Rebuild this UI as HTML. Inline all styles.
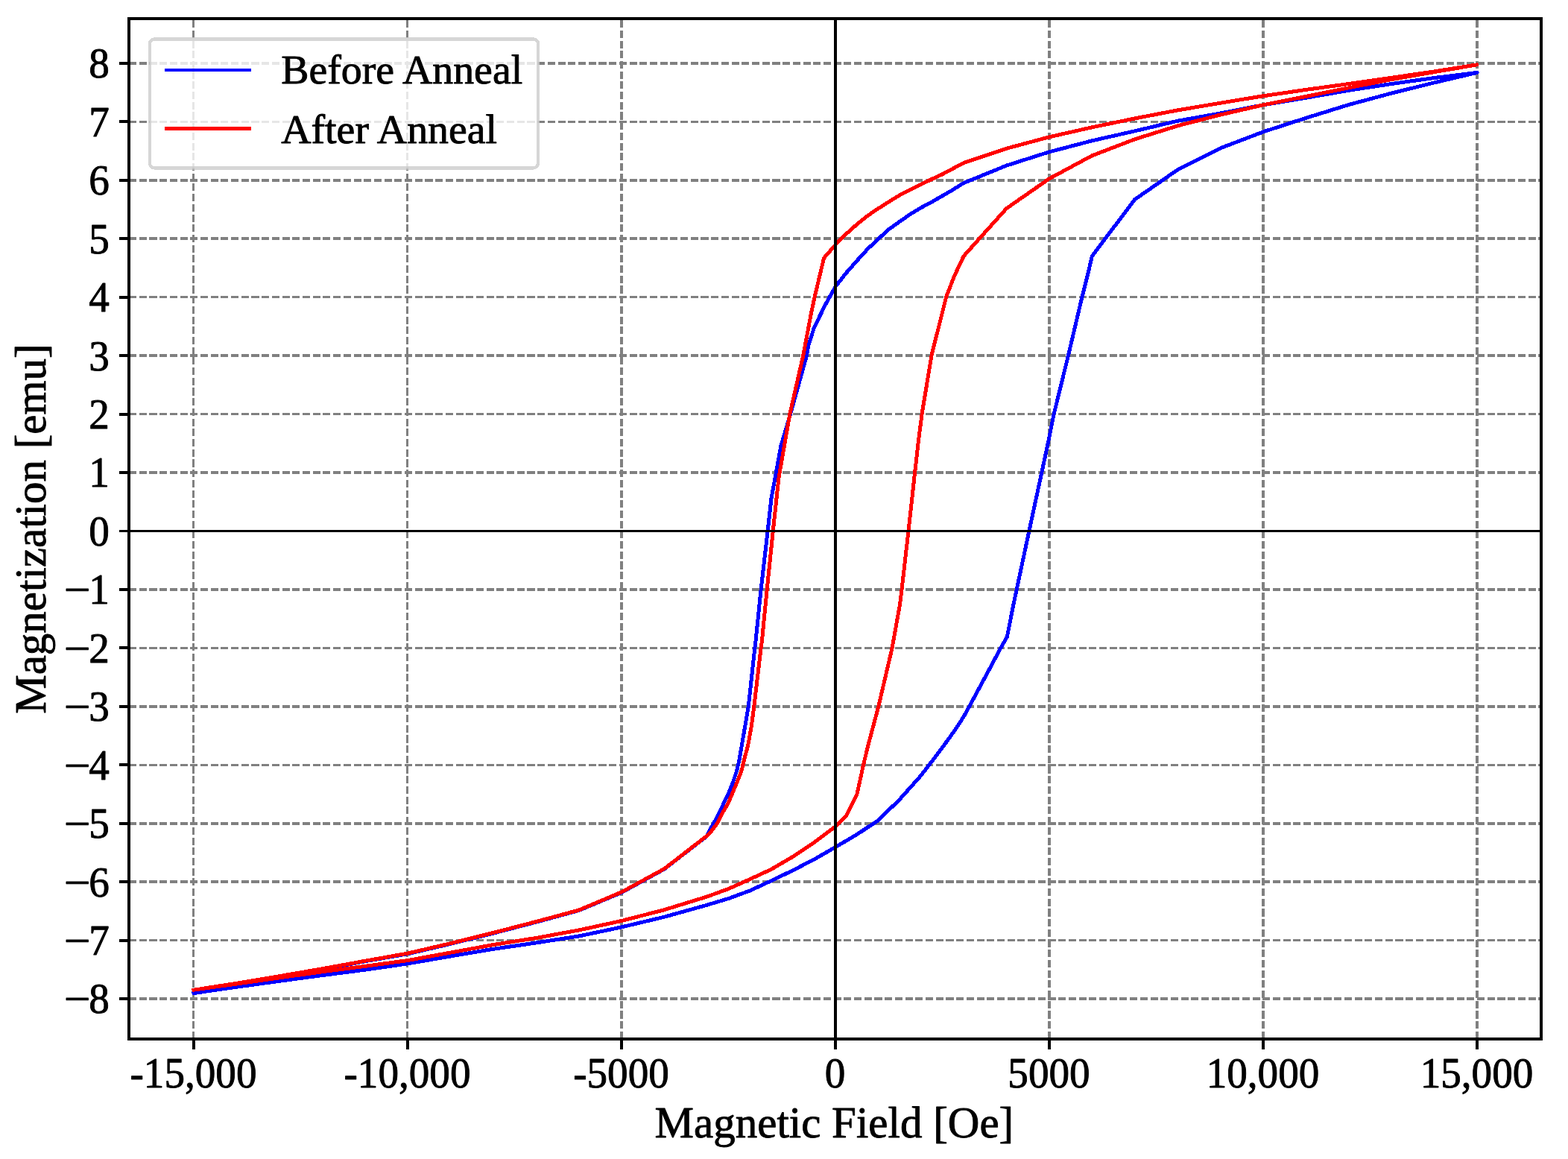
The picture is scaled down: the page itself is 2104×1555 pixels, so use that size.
<!DOCTYPE html>
<html lang="en"><head><meta charset="utf-8"><title>Magnetization vs Magnetic Field</title>
<style>html,body{margin:0;padding:0;background:#fff;}svg{display:block;}text{font-family:'Liberation Serif','Times New Roman',Times,serif;fill:#000;stroke:#000;stroke-width:0.9px;stroke-linejoin:round;paint-order:stroke fill;}</style>
</head><body>
<svg xmlns="http://www.w3.org/2000/svg" width="2104" height="1555" viewBox="0 0 2104 1555">
<rect x="0" y="0" width="2104" height="1555" fill="#ffffff"/>
<defs><clipPath id="ax"><rect x="173" y="25" width="1895" height="1369"/></clipPath></defs>
<g clip-path="url(#ax)"><g stroke="#808080" stroke-dasharray="10.1 3.605" fill="none" shape-rendering="crispEdges">
<line x1="259.5" y1="1394" x2="259.5" y2="25" stroke-width="3"/>
<line x1="546.5" y1="1394" x2="546.5" y2="25" stroke-width="3"/>
<line x1="834" y1="1394" x2="834" y2="25" stroke-width="4"/>
<line x1="1408" y1="1394" x2="1408" y2="25" stroke-width="4"/>
<line x1="1695" y1="1394" x2="1695" y2="25" stroke-width="4"/>
<line x1="1982" y1="1394" x2="1982" y2="25" stroke-width="4"/>
<line x1="173" y1="1340" x2="2068" y2="1340" stroke-width="4"/>
<line x1="173" y1="1261.5" x2="2068" y2="1261.5" stroke-width="3"/>
<line x1="173" y1="1183" x2="2068" y2="1183" stroke-width="4"/>
<line x1="173" y1="1105" x2="2068" y2="1105" stroke-width="4"/>
<line x1="173" y1="1026.5" x2="2068" y2="1026.5" stroke-width="3"/>
<line x1="173" y1="948" x2="2068" y2="948" stroke-width="4"/>
<line x1="173" y1="869.5" x2="2068" y2="869.5" stroke-width="3"/>
<line x1="173" y1="791" x2="2068" y2="791" stroke-width="4"/>
<line x1="173" y1="634" x2="2068" y2="634" stroke-width="4"/>
<line x1="173" y1="555.5" x2="2068" y2="555.5" stroke-width="3"/>
<line x1="173" y1="477" x2="2068" y2="477" stroke-width="4"/>
<line x1="173" y1="398.5" x2="2068" y2="398.5" stroke-width="3"/>
<line x1="173" y1="320" x2="2068" y2="320" stroke-width="4"/>
<line x1="173" y1="242" x2="2068" y2="242" stroke-width="4"/>
<line x1="173" y1="163.5" x2="2068" y2="163.5" stroke-width="3"/>
<line x1="173" y1="85" x2="2068" y2="85" stroke-width="4"/>
</g>
<g fill="none" stroke-width="5" stroke-linejoin="round" stroke-linecap="square" shape-rendering="crispEdges">
<polyline stroke="#0000ff" points="260.0,1332.5 317.4,1324.2 374.8,1316.3 432.2,1308.6 489.6,1301.2 547.0,1292.9 604.4,1283.0 661.8,1273.3 719.2,1265.0 776.6,1256.0 834.0,1243.9 891.4,1230.2 948.8,1214.2 977.5,1205.6 1006.2,1195.0 1034.9,1181.7 1063.6,1167.9 1092.3,1153.1 1121.0,1136.6 1149.7,1119.7 1178.4,1100.6 1207.1,1072.7 1235.8,1040.5 1246.2,1027.0 1264.5,1003.0 1281.0,980.0 1293.2,961.4 1300.7,947.8 1321.9,908.5 1342.8,869.3 1351.4,854.3 1359.9,811.0 1364.2,790.9 1380.9,712.4 1397.8,634.0 1407.0,591.0 1414.2,555.3 1433.5,476.8 1452.0,398.3 1459.2,370.0 1465.4,343.5 1522.8,267.6 1580.2,227.7 1637.6,198.8 1695.0,176.9 1752.4,158.3 1809.8,140.5 1867.2,125.1 1924.6,110.9 1982.0,97.4 1924.6,104.5 1867.2,112.5 1809.8,121.3 1752.4,131.2 1695.0,140.8 1637.6,152.0 1580.2,162.2 1522.8,175.8 1465.4,188.8 1408.0,203.8 1350.6,222.1 1293.2,245.5 1278.8,254.5 1264.5,262.8 1250.2,271.0 1235.8,278.7 1221.5,287.4 1207.1,297.3 1192.8,307.6 1178.4,320.7 1164.0,334.3 1149.7,350.0 1135.3,366.4 1121.0,384.6 1106.7,410.3 1092.3,440.0 1084.8,463.3 1082.4,477.3 1060.7,555.2 1047.8,598.5 1041.4,633.8 1035.0,668.6 1030.2,712.1 1021.1,790.9 1013.8,862.0 1012.8,869.4 1004.3,947.8 991.9,1020.0 988.6,1034.3 983.8,1048.6 977.5,1064.5 971.4,1077.1 963.1,1094.8 953.6,1111.4 948.8,1121.6 891.4,1166.0 834.0,1197.5 776.6,1221.6 719.2,1237.2 661.8,1252.2 604.4,1266.4 547.0,1279.8 489.6,1289.8 432.2,1300.8 374.8,1310.8 317.4,1320.8 260.0,1332.5"/>
<polyline stroke="#ff0000" points="260.0,1328.2 317.4,1320.0 374.8,1311.9 432.2,1303.8 489.6,1296.4 547.0,1288.6 604.4,1278.1 661.8,1267.6 719.2,1258.5 776.6,1248.0 834.0,1235.5 891.4,1220.7 948.8,1203.0 977.5,1192.5 1006.2,1179.7 1034.9,1166.3 1063.6,1149.6 1092.3,1130.4 1121.0,1109.0 1135.7,1094.0 1149.9,1065.7 1158.5,1026.4 1164.9,1000.0 1178.8,947.8 1197.1,869.3 1207.5,811.0 1210.0,790.9 1219.0,712.4 1227.6,634.0 1232.5,591.0 1237.1,555.3 1250.0,476.8 1269.7,398.3 1280.7,370.0 1293.2,343.5 1350.6,279.6 1408.0,239.7 1465.4,208.8 1522.8,186.8 1580.2,168.8 1637.6,154.0 1695.0,140.8 1752.4,129.4 1809.8,117.8 1867.2,106.6 1924.6,96.6 1982.0,86.8 1924.6,95.9 1867.2,104.3 1809.8,112.5 1752.4,120.4 1695.0,128.8 1637.6,138.2 1580.2,147.9 1522.8,158.9 1465.4,170.8 1408.0,183.8 1350.6,199.2 1293.2,218.5 1264.5,233.8 1250.2,240.4 1235.8,247.5 1221.5,254.6 1207.1,261.9 1192.8,270.7 1178.4,279.8 1164.0,289.6 1149.7,301.1 1135.3,314.0 1121.0,328.5 1105.6,346.2 1093.1,398.5 1088.3,421.0 1077.8,476.8 1059.9,555.2 1046.2,633.8 1045.1,640.0 1037.3,712.1 1029.2,790.9 1022.3,861.0 1021.1,869.4 1011.9,947.1 1008.1,975.7 1003.8,999.5 1000.0,1013.8 996.9,1026.2 996.0,1030.0 993.6,1038.0 987.2,1053.8 977.1,1077.6 969.5,1090.5 963.5,1103.0 952.4,1118.0 948.8,1121.2 891.4,1165.6 834.0,1196.9 776.6,1221.1 719.2,1236.6 661.8,1251.5 604.4,1265.7 547.0,1279.1 489.6,1289.3 432.2,1299.8 374.8,1309.7 317.4,1319.3 260.0,1328.2"/>
</g>
<g stroke="#000" shape-rendering="crispEdges">
<rect x="173" y="711" width="1895" height="3" fill="#000" stroke="none"/>
<rect x="1119" y="25" width="4" height="1369" fill="#000" stroke="none"/>
</g>
</g>
<g fill="#000" shape-rendering="crispEdges">
<rect x="171" y="23" width="4" height="1373"/>
<rect x="2066" y="23" width="4" height="1373"/>
<rect x="171" y="23" width="1899" height="4"/>
<rect x="171" y="1392" width="1899" height="4"/>
<rect x="258" y="1396" width="4" height="12"/>
<rect x="545" y="1396" width="4" height="12"/>
<rect x="832" y="1396" width="4" height="12"/>
<rect x="1119" y="1396" width="4" height="12"/>
<rect x="1406" y="1396" width="4" height="12"/>
<rect x="1693" y="1396" width="4" height="12"/>
<rect x="1980" y="1396" width="4" height="12"/>
<rect x="160" y="1338" width="11" height="4"/>
<rect x="160" y="1260" width="11" height="4"/>
<rect x="160" y="1181" width="11" height="4"/>
<rect x="160" y="1103" width="11" height="4"/>
<rect x="160" y="1024" width="11" height="4"/>
<rect x="160" y="946" width="11" height="4"/>
<rect x="160" y="867" width="11" height="4"/>
<rect x="160" y="789" width="11" height="4"/>
<rect x="160" y="711" width="11" height="3"/>
<rect x="160" y="632" width="11" height="4"/>
<rect x="160" y="554" width="11" height="4"/>
<rect x="160" y="475" width="11" height="4"/>
<rect x="160" y="397" width="11" height="4"/>
<rect x="160" y="318" width="11" height="4"/>
<rect x="160" y="240" width="11" height="4"/>
<rect x="160" y="161" width="11" height="4"/>
<rect x="160" y="83" width="11" height="4"/>
</g>
<g font-size="56" text-anchor="middle">
<text transform="translate(259.50,1459.3) scale(0.985,1)">-15,000</text>
<text transform="translate(546.50,1459.3) scale(0.985,1)">-10,000</text>
<text transform="translate(833.50,1459.3) scale(0.985,1)">-5000</text>
<text transform="translate(1120.50,1459.3) scale(0.985,1)">0</text>
<text transform="translate(1407.50,1459.3) scale(0.985,1)">5000</text>
<text transform="translate(1694.50,1459.3) scale(0.985,1)">10,000</text>
<text transform="translate(1981.50,1459.3) scale(0.985,1)">15,000</text>
</g>
<g font-size="56" text-anchor="end">
<text transform="translate(146.8,104.40) scale(0.985,1)">8</text>
<text transform="translate(146.8,182.84) scale(0.985,1)">7</text>
<text transform="translate(146.8,261.27) scale(0.985,1)">6</text>
<text transform="translate(146.8,339.71) scale(0.985,1)">5</text>
<text transform="translate(146.8,418.15) scale(0.985,1)">4</text>
<text transform="translate(146.8,496.59) scale(0.985,1)">3</text>
<text transform="translate(146.8,575.02) scale(0.985,1)">2</text>
<text transform="translate(146.8,653.46) scale(0.985,1)">1</text>
<text transform="translate(146.8,731.90) scale(0.985,1)">0</text>
<text transform="translate(146.8,810.34) scale(0.985,1)">1</text>
<text transform="translate(146.8,888.77) scale(0.985,1)">2</text>
<text transform="translate(146.8,967.21) scale(0.985,1)">3</text>
<text transform="translate(146.8,1045.65) scale(0.985,1)">4</text>
<text transform="translate(146.8,1124.09) scale(0.985,1)">5</text>
<text transform="translate(146.8,1202.53) scale(0.985,1)">6</text>
<text transform="translate(146.8,1280.96) scale(0.985,1)">7</text>
<text transform="translate(146.8,1359.40) scale(0.985,1)">8</text>
</g>
<g font-size="56" text-anchor="start">
<text transform="translate(85.8,810.34) scale(1.13,1)">−</text>
<text transform="translate(85.8,888.77) scale(1.13,1)">−</text>
<text transform="translate(85.8,967.21) scale(1.13,1)">−</text>
<text transform="translate(85.8,1045.65) scale(1.13,1)">−</text>
<text transform="translate(85.8,1124.09) scale(1.13,1)">−</text>
<text transform="translate(85.8,1202.53) scale(1.13,1)">−</text>
<text transform="translate(85.8,1280.96) scale(1.13,1)">−</text>
<text transform="translate(85.8,1359.40) scale(1.13,1)">−</text>
</g>
<text font-size="59.6" text-anchor="middle" transform="translate(1119.4,1525.7) scale(0.99,1)">Magnetic Field [Oe]</text>
<text font-size="59.6" text-anchor="middle" transform="translate(60.9,709.6) rotate(-90) scale(0.99,1)">Magnetization [emu]</text>
<rect x="201" y="52.4" width="521" height="173" rx="6.5" ry="6.5" fill="#ffffff" fill-opacity="0.8" stroke="none"/>
<rect x="201" y="52.4" width="521" height="173" rx="6.5" ry="6.5" fill="none" stroke="#cccccc" stroke-opacity="0.8" stroke-width="4.4" shape-rendering="crispEdges"/>
<g shape-rendering="crispEdges">
<rect x="221" y="92" width="116" height="4" fill="#0000ff"/>
<rect x="221" y="170" width="116" height="5" fill="#ff0000"/>
</g>
<g font-size="54.8">
<text transform="translate(377.2,112.4) scale(1.019,1)">Before Anneal</text>
<text transform="translate(377.2,191.7) scale(1.019,1)">After Anneal</text>
</g>
</svg>
</body></html>
